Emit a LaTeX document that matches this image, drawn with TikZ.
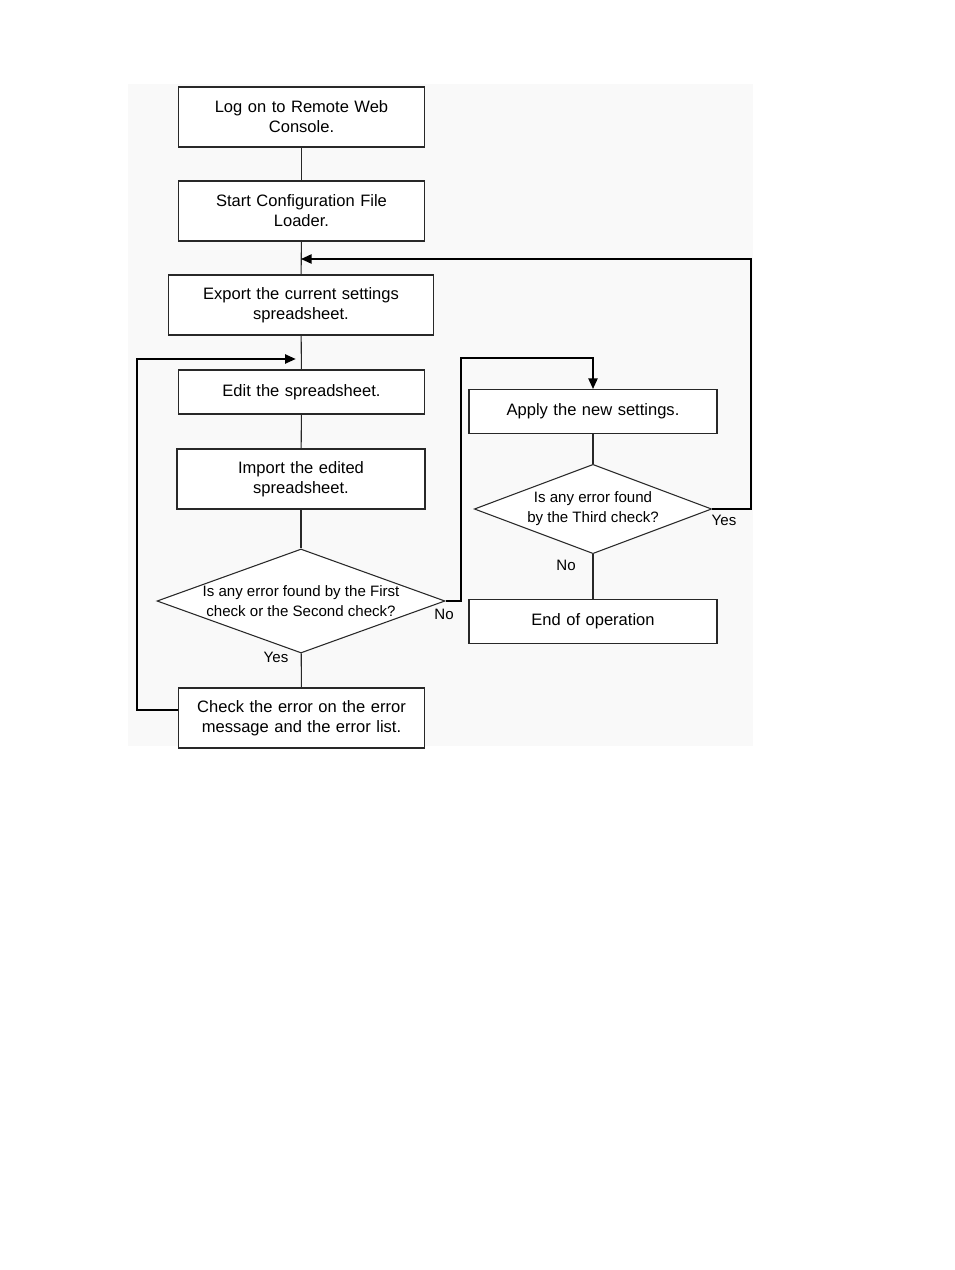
\documentclass[tikz,border=0pt]{standalone}
\usepackage{fontspec}
\setmainfont{Liberation Sans}
\usetikzlibrary{arrows.meta,positioning,shapes.geometric}
\definecolor{lineGrey}{RGB}{40, 40, 40}
\definecolor{paperGrey}{RGB}{249, 249, 249}
\tikzset{
  stepbox/.style={draw=lineGrey, fill=white, line width=0.8pt, minimum height=45pt, text width=180pt, align=center, inner sep=2pt, font=\fontsize{12.4}{15}\selectfont},
  shortbox/.style={stepbox, minimum height=33pt},
  decision/.style={diamond, draw=lineGrey, fill=white, line width=0.8pt, inner sep=-16pt, aspect=2.77, align=center, font=\fontsize{11.3}{15}\selectfont},
  flow/.style={draw=lineGrey, line width=0.8pt},
  back/.style={draw=black, line width=1.1pt, -{Triangle[length=8pt,width=7pt]}},
  answer/.style={font=\fontsize{11.3}{12}\selectfont, inner sep=0pt}
}
\begin{document}
\begin{tikzpicture}[x=0.75pt, y=-0.75pt]
  \useasboundingbox (0,0) rectangle (954,1270);
  \fill[paperGrey] (128,84) rectangle (753,746);

  % main column
  \node[stepbox, minimum width=185pt] (logon) at (301.5,117) {Log on to Remote Web\\Console.};
  \node[stepbox, minimum width=185pt] (loader) at (301.5,211) {Start Configuration File\\Loader.};
  \node[stepbox, minimum width=199pt, text width=195pt] (export) at (301,305) {Export the current settings\\spreadsheet.};
  \node[shortbox, minimum width=185pt] (edit) at (301.5,392) {Edit the spreadsheet.};
  \node[stepbox, minimum width=186pt] (import) at (301,479) {Import the edited\\spreadsheet.};
  \node[decision, minimum width=216pt, minimum height=78pt] (check12) at (301,601) {Is any error found by the First\\check or the Second check?};
  \node[stepbox, minimum width=185pt] (errors) at (301.5,718) {Check the error on the error\\message and the error list.};

  % right column
  \node[shortbox, minimum width=186pt] (apply) at (593,411.5) {Apply the new settings.};
  \node[decision, minimum width=178pt, minimum height=67pt] (check3) at (593,509) {Is any error found\\by the Third check?};
  \node[shortbox, minimum width=186pt] (finish) at (593,621.5) {End of operation};

  % turning points of the loops
  \coordinate (exportIn) at (301,259);
  \coordinate (editIn) at (301,359);
  \coordinate (applyIn) at (593,358);

  \draw[flow] (logon) -- (loader);
  \draw[flow] (loader) -- (export);
  \draw[flow] (export) -- (edit);
  \draw[flow] (edit) -- (import);
  \draw[flow] (import) -- (check12);
  \draw[flow] (check12) -- (errors);
  \draw[flow] (apply) -- (check3);
  \draw[flow] (check3) -- (finish);

  \draw[back] (check3.east) -- (751,509) -- (751,259) -- (exportIn);
  \draw[back, shorten >=4pt] ([yshift=6pt]errors.west) -- (137,710) -- (137,359) -- (editIn);
  \draw[back] (check12.east) -- (461,601) -- (461,358) -- (applyIn) -- (apply.north);

  \node[answer] (no12) at (444,614) {No};
  \node[answer] (yes12) at (276,657) {Yes};
  \node[answer] (yes3) at (724,520) {Yes};
  \node[answer] (no3) at (566,565) {No};
\end{tikzpicture}
\end{document}
